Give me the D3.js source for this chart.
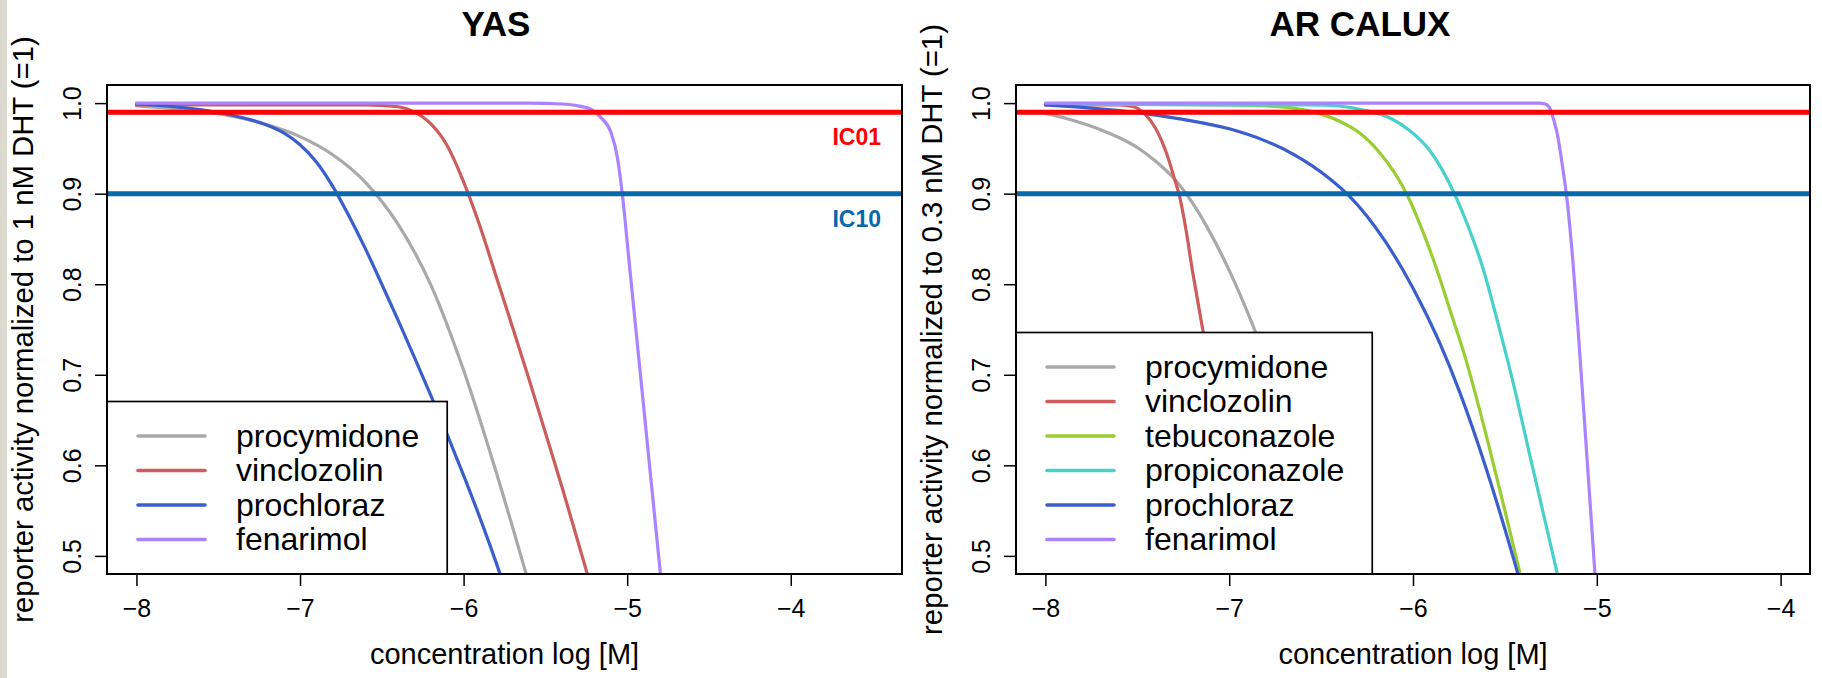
<!DOCTYPE html>
<html>
<head>
<meta charset="utf-8">
<script src="https://cdn.jsdelivr.net/npm/d3@7"></script>
<style>
  html, body { margin: 0; padding: 0; background: #ffffff; }
  svg { display: block; }
  text { font-family: "Liberation Sans", Arial, Helvetica, sans-serif; }
</style>
</head>
<body>
<svg id="chart" width="1822" height="678"></svg>
<script>
// ---- axis ticks ----
const xTicks = [-8, -7, -6, -5, -4];
const yTicks = [0.5, 0.6, 0.7, 0.8, 0.9, 1.0];
const yRange = [0.5, 1.0];

// ---- reference levels ----
const icLevels = [0.99, 0.9];
const icLabels = ["IC01", "IC10"];

// ---- YAS panel: [log concentration, normalized activity] ----
const yasCompounds = ["procymidone", "vinclozolin", "prochloraz", "fenarimol"];
const yasProcymidone = [[-8.0,0.997],[-7.8,0.9945],[-7.6,0.991],[-7.4,0.985],[-7.2,0.976],[-7.0,0.963],[-6.8,0.943],[-6.6,0.9125],[-6.4,0.866],[-6.2,0.799],[-6.0,0.705],[-5.8,0.592],[-5.6,0.469]];
const yasVinclozolin = [[-8.0,0.998],[-7.0,0.998],[-6.6,0.998],[-6.4,0.996],[-6.3,0.990],[-6.2,0.977],[-6.1,0.953],[-6.0,0.913],[-5.9,0.864],[-5.8,0.808],[-5.7,0.752],[-5.6,0.695],[-5.5,0.636],[-5.4,0.577],[-5.3,0.515],[-5.2,0.453]];
const yasProchloraz = [[-8.0,0.999],[-7.8,0.9965],[-7.6,0.9925],[-7.4,0.986],[-7.3,0.9815],[-7.2,0.9755],[-7.1,0.967],[-7.0,0.954],[-6.9,0.935],[-6.8,0.908],[-6.7,0.875],[-6.6,0.839],[-6.5,0.800],[-6.4,0.760],[-6.3,0.719],[-6.2,0.677],[-6.1,0.634],[-6.0,0.589],[-5.9,0.542],[-5.8,0.492],[-5.7,0.438]];
const yasFenarimol = [[-8.0,1.0],[-5.6,1.0],[-5.4,0.999],[-5.3,0.997],[-5.22,0.993],[-5.16,0.984],[-5.10,0.968],[-5.06,0.940],[-5.03,0.900],[-4.99,0.828],[-4.95,0.756],[-4.90,0.666],[-4.85,0.576],[-4.81,0.504],[-4.78,0.45]];

// ---- AR CALUX panel ----
const arCompounds = ["procymidone", "vinclozolin", "tebuconazole", "propiconazole", "prochloraz", "fenarimol"];
const arProcymidone = [[-8.0,0.9887],[-7.9,0.9838],[-7.8,0.9777],[-7.7,0.9707],[-7.6,0.962],[-7.5,0.951],[-7.4,0.9358],[-7.3,0.9167],[-7.2,0.8898],[-7.1,0.8556],[-7.0,0.8153],[-6.9,0.7688],[-6.8,0.717],[-6.6,0.601],[-6.4,0.477]];
const arVinclozolin = [[-8.0,0.998],[-7.6,0.998],[-7.52,0.996],[-7.46,0.988],[-7.40,0.972],[-7.34,0.944],[-7.30,0.918],[-7.27,0.897],[-7.24,0.866],[-7.20,0.815],[-7.15,0.757],[-7.10,0.700],[-7.0,0.55],[-6.95,0.46]];
const arTebuconazole = [[-8.0,0.999],[-7.0,0.998],[-6.8,0.997],[-6.7,0.9955],[-6.54,0.990],[-6.4,0.980],[-6.29,0.967],[-6.18,0.945],[-6.1,0.923],[-6.03,0.898],[-5.95,0.860],[-5.87,0.816],[-5.79,0.766],[-5.72,0.722],[-5.6,0.632],[-5.5,0.550],[-5.4,0.466]];
const arPropiconazole = [[-8.0,0.999],[-6.8,0.998],[-6.55,0.998],[-6.39,0.9965],[-6.25,0.9915],[-6.12,0.983],[-6.02,0.970],[-5.91,0.948],[-5.84,0.926],[-5.77,0.898],[-5.70,0.864],[-5.62,0.818],[-5.53,0.751],[-5.45,0.687],[-5.37,0.616],[-5.29,0.546],[-5.21,0.476]];
const arProchloraz = [[-8.0,0.998],[-7.75,0.9945],[-7.5,0.9895],[-7.25,0.982],[-7.0,0.9716],[-6.8,0.958],[-6.65,0.9435],[-6.55,0.931],[-6.45,0.916],[-6.35,0.898],[-6.25,0.875],[-6.15,0.847],[-6.05,0.814],[-5.95,0.776],[-5.85,0.733],[-5.75,0.683],[-5.65,0.626],[-5.55,0.563],[-5.45,0.495],[-5.35,0.423]];
const arFenarimol = [[-8.0,1.0],[-5.6,1.0],[-5.32,1.0],[-5.28,0.999],[-5.255,0.994],[-5.235,0.982],[-5.215,0.966],[-5.19,0.935],[-5.16,0.890],[-5.13,0.825],[-5.10,0.745],[-5.06,0.628],[-5.02,0.51],[-5.00,0.45]];

// ---- line colours per compound ----
const compoundColor = {
  procymidone: "#a9a9a9",
  vinclozolin: "#cd5c5c",
  prochloraz: "#3a5fcd",
  fenarimol: "#ab82ff",
  tebuconazole: "#9acd32",
  propiconazole: "#48d1cc"
};
const icColor = ["#ff0000", "#0868ac"];

const svg = d3.select("#chart");
svg.append("rect").attr("width", 1822).attr("height", 678).attr("fill", "#ffffff");
svg.append("rect").attr("x", 0).attr("y", 0).attr("width", 7).attr("height", 678).attr("fill", "#dcd9cf");

// R-style axis range: data range padded by 4% on each side
function padded(lo, hi) {
  const p = (hi - lo) * 0.04;
  return [lo - p, hi + p];
}

function drawPanel(opt) {
  const { id, box, xLimits, title, titleX, yTitle, compounds, series, showIcLabels } = opt;
  const x = d3.scaleLinear().domain(padded(xLimits[0], xLimits[1])).range([box.x0, box.x1]);
  const y = d3.scaleLinear().domain(padded(yRange[0], yRange[1])).range([box.y1, box.y0]);
  const g = svg.append("g");

  g.append("clipPath").attr("id", "clip-" + id)
    .append("rect").attr("x", box.x0).attr("y", box.y0)
    .attr("width", box.x1 - box.x0).attr("height", box.y1 - box.y0);

  const plot = g.append("g").attr("clip-path", `url(#clip-${id})`);
  const line = d3.line().x(d => x(d[0])).y(d => y(d[1])).curve(d3.curveMonotoneX);

  plot.selectAll("path.curve").data(series).join("path")
    .attr("class", "curve")
    .attr("d", d => line(d))
    .attr("fill", "none")
    .attr("stroke", (d, i) => compoundColor[compounds[i]])
    .attr("stroke-width", 3.2)
    .attr("stroke-linecap", "round")
    .attr("stroke-linejoin", "round");

  // inhibition reference lines
  plot.selectAll("line.ic").data(icLevels).join("line")
    .attr("class", "ic")
    .attr("x1", box.x0).attr("x2", box.x1)
    .attr("y1", d => y(d)).attr("y2", d => y(d))
    .attr("stroke", (d, i) => icColor[i])
    .attr("stroke-width", 5);

  if (showIcLabels) {
    g.selectAll("text.iclab").data(icLevels).join("text")
      .attr("class", "iclab")
      .attr("x", box.x1 - 21)
      .attr("y", d => y(d) + 33)
      .attr("text-anchor", "end")
      .attr("font-size", 23)
      .attr("font-weight", "bold")
      .attr("fill", (d, i) => icColor[i])
      .text((d, i) => icLabels[i]);
  }

  // x axis
  const xAxis = g.append("g").attr("transform", `translate(0,${box.y1})`)
    .call(d3.axisBottom(x).tickValues(xTicks).tickSize(12).tickPadding(13).tickSizeOuter(0).tickFormat(d3.format("d")));
  xAxis.select(".domain").remove();
  xAxis.selectAll(".tick line").attr("stroke", "#000").attr("stroke-width", 1.5);
  xAxis.selectAll(".tick text")
    .attr("font-family", "'Liberation Sans', Arial, sans-serif")
    .attr("font-size", 25).attr("fill", "#000");

  // y axis with labels parallel to the axis
  const yAxis = g.append("g").attr("transform", `translate(${box.x0},0)`)
    .call(d3.axisLeft(y).tickValues(yTicks).tickSize(12).tickSizeOuter(0).tickFormat(d3.format(".1f")));
  yAxis.select(".domain").remove();
  yAxis.selectAll(".tick line").attr("stroke", "#000").attr("stroke-width", 1.5);
  yAxis.selectAll(".tick text")
    .attr("x", null).attr("dy", null)
    .attr("transform", "translate(-26.5,0) rotate(-90)")
    .attr("text-anchor", "middle")
    .attr("font-family", "'Liberation Sans', Arial, sans-serif")
    .attr("font-size", 25).attr("fill", "#000");

  // axis titles and panel title
  g.append("text")
    .attr("x", (box.x0 + box.x1) / 2).attr("y", 664)
    .attr("text-anchor", "middle").attr("font-size", 29)
    .text("concentration log [M]");
  g.append("text")
    .attr("transform", `translate(${box.x0 - 74},${(box.y0 + box.y1) / 2}) rotate(-90)`)
    .attr("text-anchor", "middle").attr("font-size", 29.3)
    .text(yTitle);
  g.append("text")
    .attr("x", titleX).attr("y", 36)
    .attr("text-anchor", "middle").attr("font-size", 35).attr("font-weight", "bold")
    .text(title);

  // legend, anchored to the bottom-left corner of the plot
  const rowH = 34.5;
  const leg = g.append("g");
  const legRect = leg.append("rect")
    .attr("x", box.x0).attr("y", box.y1 - rowH * (compounds.length + 1))
    .attr("height", rowH * (compounds.length + 1))
    .attr("fill", "#fff").attr("stroke", "#000").attr("stroke-width", 1.7);
  const rows = leg.selectAll("g.row").data(compounds).join("g")
    .attr("class", "row")
    .attr("transform", (d, i) => `translate(${box.x0},${box.y1 - rowH * (compounds.length - i)})`);
  rows.append("line")
    .attr("x1", 31).attr("x2", 98).attr("y1", 0).attr("y2", 0)
    .attr("stroke", d => compoundColor[d]).attr("stroke-width", 3.6).attr("stroke-linecap", "round");
  const labels = rows.append("text")
    .attr("x", 129).attr("y", 10.5).attr("font-size", 32)
    .text(d => d);
  let maxW = 0;
  labels.each(function () { maxW = Math.max(maxW, this.getComputedTextLength()); });
  legRect.attr("width", 129 + maxW + 28);

  // plot frame
  g.append("rect")
    .attr("x", box.x0).attr("y", box.y0)
    .attr("width", box.x1 - box.x0).attr("height", box.y1 - box.y0)
    .attr("fill", "none").attr("stroke", "#000").attr("stroke-width", 2);
}

drawPanel({
  id: "yas",
  box: { x0: 107, x1: 902, y0: 85, y1: 574 },
  xLimits: [-8, -3.5],
  title: "YAS", titleX: 496,
  yTitle: "reporter activity normalized to 1 nM DHT (=1)",
  compounds: yasCompounds,
  series: [yasProcymidone, yasVinclozolin, yasProchloraz, yasFenarimol],
  showIcLabels: true
});

drawPanel({
  id: "ar",
  box: { x0: 1016, x1: 1810, y0: 85, y1: 574 },
  xLimits: [-8, -4],
  title: "AR CALUX", titleX: 1360,
  yTitle: "reporter activity normalized to 0.3 nM DHT (=1)",
  compounds: arCompounds,
  series: [arProcymidone, arVinclozolin, arTebuconazole, arPropiconazole, arProchloraz, arFenarimol],
  showIcLabels: false
});
</script>
</body>
</html>
